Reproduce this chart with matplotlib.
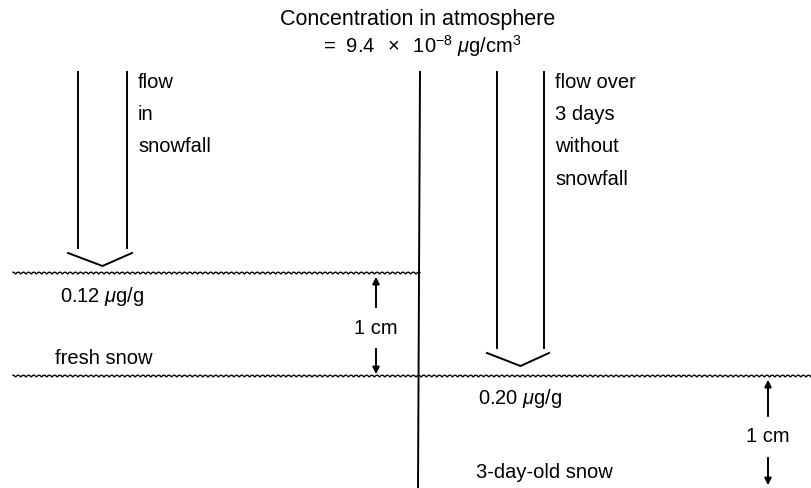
import numpy as np
import matplotlib
matplotlib.use('Agg')
import matplotlib.pyplot as plt

plt.rcParams['font.family'] = ['Liberation Sans', 'DejaVu Sans']
plt.rcParams['mathtext.fontset'] = 'custom'
plt.rcParams['mathtext.rm'] = 'Liberation Sans'
plt.rcParams['mathtext.it'] = 'Liberation Sans:italic'

title_lines = ['Concentration in atmosphere', r'=  9.4 $\;\times\;$ 10$^{-8}$ $\mu$g/cm$^3$']
left_flow_words = ['flow', 'in', 'snowfall']
right_flow_words = ['flow over', '3 days', 'without', 'snowfall']
layer_tops = [274, 377]          # snow surfaces (pixel rows)
conc_labels = ['0.12 $\\mu$g/g', '0.20 $\\mu$g/g']
snow_labels = ['fresh snow', '3-day-old snow']
depth_label = '1 cm'

fig = plt.figure(figsize=(8.11, 4.88), dpi=100)
ax = fig.add_axes([0, 0, 1, 1])
ax.set_xlim(0, 811)
ax.set_ylim(488, 0)
ax.axis('off')

lw = 1.4
fs = 14.5


def wavy(x0, x1, y):
    x = np.linspace(x0, x1, int((x1 - x0) * 4))
    ax.plot(x, y - 1.8 * np.abs(np.sin(np.pi * x / 5.2)), color='black', lw=1.0)


def big_arrow(xl, xr, y0, y1):
    ax.plot([xl, xl], [y0, y1], color='black', lw=lw)
    ax.plot([xr, xr], [y0, y1], color='black', lw=lw)
    xm = (xl + xr) / 2
    ax.plot([xl - 10, xm, xr + 5], [y1 + 5, y1 + 18, y1 + 5], color='black', lw=lw)


def cm_arrow(x, ytop, ybot, ytext):
    ax.annotate('', xy=(x, ytop), xytext=(x, ytext - 18),
                arrowprops=dict(arrowstyle='-|>', color='black', lw=lw, mutation_scale=10))
    ax.annotate('', xy=(x, ybot), xytext=(x, ytext + 18),
                arrowprops=dict(arrowstyle='-|>', color='black', lw=lw, mutation_scale=10))
    ax.text(x, ytext, depth_label, ha='center', va='center', fontsize=fs)


# title
ax.text(418, 20, title_lines[0], ha='center', va='center', fontsize=fs + 1)
ax.text(422, 46, title_lines[1], ha='center', va='center', fontsize=fs)

# central divider
ax.plot([420, 418], [72, 488], color='black', lw=lw)

# left column: flow in snowfall
big_arrow(78, 127, 72, 248)
for i, w in enumerate(left_flow_words):
    ax.text(138, 82 + i * 32, w, ha='left', va='center', fontsize=fs)

# right column: flow over 3 days
big_arrow(497, 544, 72, 348)
for i, w in enumerate(right_flow_words):
    ax.text(555, 82 + i * 32.5, w, ha='left', va='center', fontsize=fs)

# snow surfaces
wavy(13, 420, layer_tops[0])
wavy(13, 811, layer_tops[1])

ax.text(60, 297, conc_labels[0], ha='left', va='center', fontsize=fs)
ax.text(55, 358, snow_labels[0], ha='left', va='center', fontsize=fs)
ax.text(478, 399, conc_labels[1], ha='left', va='center', fontsize=fs)
ax.text(476, 473, snow_labels[1], ha='left', va='center', fontsize=fs)

cm_arrow(376, layer_tops[0], layer_tops[1], 328)
cm_arrow(768, layer_tops[1], 488, 437)

fig.savefig('out.png', dpi=100)
